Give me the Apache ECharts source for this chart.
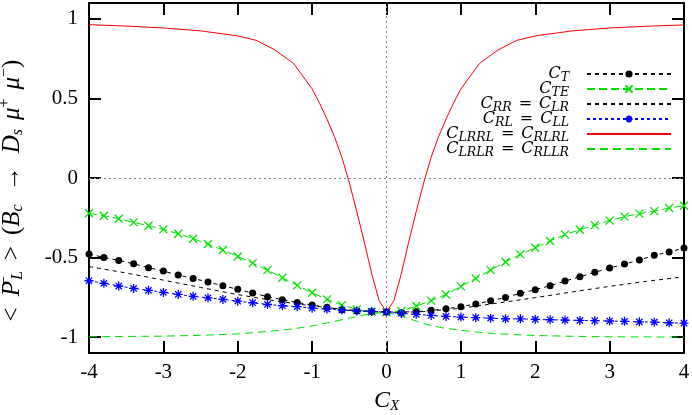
<!DOCTYPE html>
<html>
<head>
<meta charset="utf-8">
<script src="https://cdn.jsdelivr.net/npm/echarts@6.0.0/dist/echarts.min.js"></script>
<style>
  html, body { margin: 0; padding: 0; background: #fff; }
  #chart { width: 692px; height: 415px; }
</style>
</head>
<body>
<div id="chart"></div>
<script>
// x positions of the marked points (step 0.2)
const xMarks = [-4, -3.8, -3.6, -3.4, -3.2, -3, -2.8, -2.6, -2.4, -2.2, -2, -1.8, -1.6, -1.4, -1.2, -1, -0.8, -0.6, -0.4, -0.2,
  0, 0.2, 0.4, 0.6, 0.8, 1, 1.2, 1.4, 1.6, 1.8, 2, 2.2, 2.4, 2.6, 2.8, 3, 3.2, 3.4, 3.6, 3.8, 4];

const cT = [-0.478, -0.499, -0.518, -0.539, -0.564, -0.585, -0.610, -0.631, -0.654, -0.677, -0.700, -0.723, -0.746, -0.765, -0.782, -0.799, -0.813, -0.828, -0.836, -0.841,
  -0.843, -0.845, -0.841, -0.832, -0.822, -0.809, -0.792, -0.772, -0.751, -0.725, -0.702, -0.677, -0.648, -0.621, -0.593, -0.566, -0.541, -0.516, -0.486, -0.465, -0.440];

const cTE = [-0.222, -0.237, -0.256, -0.279, -0.300, -0.323, -0.350, -0.382, -0.415, -0.453, -0.493, -0.535, -0.579, -0.627, -0.675, -0.721, -0.763, -0.799, -0.826, -0.841,
  -0.843, -0.836, -0.805, -0.771, -0.732, -0.681, -0.631, -0.579, -0.528, -0.480, -0.438, -0.396, -0.356, -0.325, -0.296, -0.268, -0.243, -0.224, -0.208, -0.189, -0.174];

const cRL = [-0.646, -0.662, -0.679, -0.694, -0.706, -0.719, -0.732, -0.744, -0.753, -0.763, -0.774, -0.784, -0.795, -0.803, -0.809, -0.818, -0.824, -0.830, -0.836, -0.839,
  -0.843, -0.851, -0.857, -0.864, -0.870, -0.874, -0.878, -0.881, -0.885, -0.885, -0.889, -0.891, -0.893, -0.895, -0.897, -0.899, -0.901, -0.904, -0.906, -0.910, -0.912];

const xRR = [-4, -3.5, -3, -2.5, -2, -1.5, -1, -0.5, 0, 0.5, 1, 1.5, 2, 2.5, 3, 3.5, 4];
const cRR = [-0.557, -0.597, -0.642, -0.688, -0.733, -0.772, -0.804, -0.829, -0.843, -0.840, -0.819, -0.786, -0.752, -0.716, -0.681, -0.649, -0.621];

const xLRLR = [-4, -3.5, -3, -2.5, -2, -1.5, -1.25, -1, -0.75, -0.5, -0.25, 0, 0.25, 0.5, 0.75, 1, 1.25, 1.5, 2, 2.5, 3, 3.5, 4];
const cLRLR = [-0.998, -0.996, -0.994, -0.989, -0.980, -0.961, -0.948, -0.930, -0.906, -0.881, -0.856, -0.843,
  -0.875, -0.916, -0.942, -0.957, -0.970, -0.979, -0.990, -0.995, -0.998, -0.999, -1.0];

const xLRRL = [-4, -3.5, -3, -2.5, -2, -1.75, -1.5, -1.25, -1, -0.9, -0.8, -0.7, -0.6, -0.5, -0.4, -0.3, -0.2, -0.1, 0,
  0.1, 0.2, 0.3, 0.4, 0.5, 0.6, 0.7, 0.8, 0.9, 1, 1.25, 1.5, 1.75, 2, 2.5, 3, 3.5, 4];
const cLRRL = [0.964, 0.955, 0.943, 0.925, 0.893, 0.865, 0.805, 0.720, 0.560, 0.470, 0.370, 0.260, 0.130, -0.030, -0.210, -0.400, -0.600, -0.770, -0.843,
  -0.770, -0.600, -0.400, -0.210, -0.030, 0.130, 0.260, 0.370, 0.470, 0.560, 0.720, 0.805, 0.865, 0.893, 0.925, 0.943, 0.954, 0.962];

const yTicks = [-1, -0.5, 0, 0.5, 1];

const legendNames = ['CT', 'CTE', 'CRR', 'CRL', 'CLRRL', 'CLRLR'];
const legendText = {
  CT: '{i|C}{s|T}{g| }',
  CTE: '{i|C}{s|TE}{g| }',
  CRR: '{i|C}{s|RR}{t|=}{i|C}{s|LR}{g| }',
  CRL: '{i|C}{s|RL}{t|=}{i|C}{s|LL}{g| }',
  CLRRL: '{i|C}{s|LRRL}{t|=}{i|C}{s|RLRL}{g| }',
  CLRLR: '{i|C}{s|LRLR}{t|=}{i|C}{s|RLLR}{g| }',
};

const serif = 'Liberation Serif';
const wide = 'DejaVu Serif';
const green = '#00e000';

const pair = (xs, ys) => xs.map((x, i) => [x, ys[i]]);

const chart = echarts.init(document.getElementById('chart'));

const axisCommon = {
  type: 'value',
  axisLine: { onZero: false, lineStyle: { color: '#000', width: 2 } },
  axisTick: { inside: true, length: 12, lineStyle: { color: '#000', width: 2 } },
  splitLine: { show: false },
};

chart.setOption({
  animation: false,
  backgroundColor: '#fff',
  grid: { left: 89, right: 8, top: 3, bottom: 62, outerBoundsMode: 'none' },
  legend: {
    orient: 'vertical',
    align: 'right',
    right: 15,
    top: 59,
    itemGap: -5,
    itemWidth: 84,
    itemHeight: 9,
    selectedMode: false,
    data: legendNames.map(name => (
      ['CRR', 'CLRRL', 'CLRLR'].includes(name)
        ? { name, itemStyle: { opacity: 0 } }
        : { name }
    )),
    formatter: name => legendText[name],
    textStyle: {
      fontFamily: wide,
      color: '#000',
      rich: {
        i: { fontFamily: wide, fontStyle: 'italic', fontSize: 16, lineHeight: 16 },
        t: { fontFamily: wide, fontSize: 16, lineHeight: 16, padding: [0, 7, 0, 7] },
        s: { fontFamily: wide, fontStyle: 'italic', fontSize: 12.5, lineHeight: 16, padding: [7, 0, 0, 0] },
        g: { width: 13, lineHeight: 16 },
      },
    },
  },
  xAxis: [
    {
      ...axisCommon,
      min: -4,
      max: 4,
      interval: 1,
      position: 'bottom',
      axisLabel: { margin: 9, fontFamily: serif, fontSize: 21, color: '#000', showMinLabel: true, showMaxLabel: true },
      name: '{i|C}{s|X}',
      nameLocation: 'middle',
      nameGap: 35,
      nameTextStyle: {
        rich: {
          i: { fontFamily: serif, fontStyle: 'italic', fontSize: 24, lineHeight: 26 },
          s: { fontFamily: serif, fontStyle: 'italic', fontSize: 15, lineHeight: 26, padding: [11, 0, 0, 0] },
        },
      },
    },
    {
      ...axisCommon,
      min: -4,
      max: 4,
      interval: 1,
      position: 'top',
      axisLabel: { show: false },
    },
  ],
  yAxis: [
    {
      ...axisCommon,
      min: -1.1,
      max: 1.1,
      position: 'left',
      axisTick: { ...axisCommon.axisTick, customValues: yTicks },
      axisLabel: { customValues: yTicks, margin: 11, fontFamily: serif, fontSize: 21, color: '#000' },
      name: '{rel|<}{i|P}{pw|−}{sb|L}{rel|>}{t|(}{i|B}{sb|c}{arr|→}{i|D}{sb|s}{mu|μ}{sp|+}{mu|μ}{sp|−}{end|)}',
      nameLocation: 'middle',
      nameRotate: 90,
      nameGap: 62,
      nameTextStyle: {
        rich: {
          t: { fontFamily: serif, fontSize: 25, lineHeight: 30 },
          rel: { fontFamily: serif, fontSize: 25, lineHeight: 30, padding: [0, 11, 0, 11] },
          arr: { fontFamily: serif, fontSize: 25, lineHeight: 30, padding: [0, 13, 0, 13] },
          end: { fontFamily: serif, fontSize: 25, lineHeight: 30, padding: [0, 36, 0, 0] },
          i: { fontFamily: serif, fontStyle: 'italic', fontSize: 25, lineHeight: 30 },
          mu: { fontFamily: serif, fontStyle: 'italic', fontSize: 25, lineHeight: 30, padding: [0, 0, 0, 9] },
          pw: { fontFamily: serif, fontSize: 16, lineHeight: 30, padding: [0, 0, 15, 0], width: 1, align: 'left' },
          sp: { fontFamily: serif, fontSize: 16, lineHeight: 30, padding: [0, 0, 15, 0] },
          sb: { fontFamily: serif, fontStyle: 'italic', fontSize: 16, lineHeight: 30, padding: [12, 0, 0, 0] },
        },
      },
    },
    {
      ...axisCommon,
      min: -1.1,
      max: 1.1,
      position: 'right',
      axisTick: { ...axisCommon.axisTick, customValues: yTicks },
      axisLabel: { show: false },
    },
  ],
  series: [
    {
      name: 'CT',
      type: 'line',
      silent: true,
      data: pair(xMarks, cT),
      symbol: 'circle',
      symbolSize: 7,
      itemStyle: { color: '#000' },
      lineStyle: { color: '#000', width: 1, type: [4, 4] },
      markLine: {
        silent: true,
        symbol: 'none',
        label: { show: false },
        lineStyle: { color: '#888', width: 1, type: [2, 3] },
        data: [{ xAxis: 0 }, { yAxis: 0 }],
      },
    },
    {
      name: 'CTE',
      type: 'line',
      silent: true,
      data: pair(xMarks, cTE),
      symbol: 'path://M0,0L10,10M10,0L0,10',
      symbolSize: 8,
      itemStyle: { color: green, borderColor: green, borderWidth: 1.3 },
      lineStyle: { color: green, width: 1, type: [8, 4] },
    },
    {
      name: 'CRR',
      type: 'line',
      silent: true,
      data: pair(xRR, cRR),
      symbol: 'none',
      lineStyle: { color: '#000', width: 1, type: [4, 4] },
      itemStyle: { color: '#000' },
    },
    {
      name: 'CRL',
      type: 'line',
      silent: true,
      data: pair(xMarks, cRL),
      symbol: 'path://M0,5L10,5M5,0L5,10M1.5,1.5L8.5,8.5M8.5,1.5L1.5,8.5',
      symbolSize: 9,
      itemStyle: { color: '#0000ff', borderColor: '#0000ff', borderWidth: 1.3 },
      lineStyle: { color: '#0000ff', width: 1, type: [3, 3] },
    },
    {
      name: 'CLRRL',
      type: 'line',
      silent: true,
      data: pair(xLRRL, cLRRL),
      symbol: 'none',
      lineStyle: { color: '#ff0000', width: 1 },
      itemStyle: { color: '#ff0000' },
    },
    {
      name: 'CLRLR',
      type: 'line',
      silent: true,
      data: pair(xLRLR, cLRLR),
      symbol: 'none',
      lineStyle: { color: green, width: 1, type: [8, 5] },
      itemStyle: { color: green },
    },
  ],
});
</script>
</body>
</html>
